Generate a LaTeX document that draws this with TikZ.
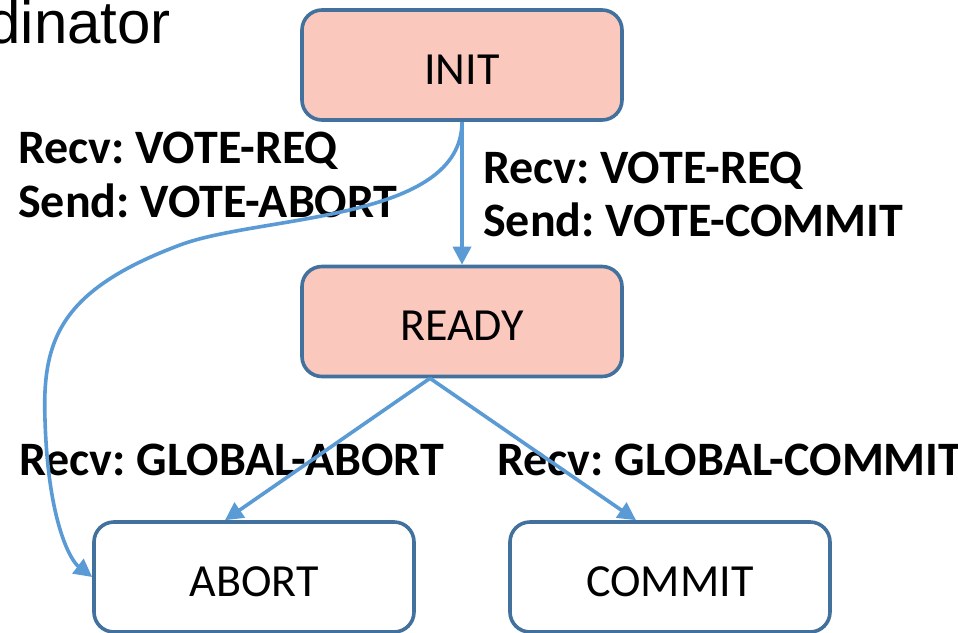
\documentclass[tikz,border=0pt]{standalone}
\usepackage{fontspec}
\setmainfont{Carlito}
\newfontfamily\arialfont{Liberation Sans}
\usetikzlibrary{arrows.meta,calc}
\definecolor{boxline}{HTML}{41719C}
\definecolor{boxfill}{HTML}{FBC8BE}
\definecolor{arrowblue}{HTML}{5B9BD5}
\begin{document}
\frenchspacing
\begin{tikzpicture}[x=1pt,y=-1pt,
  state/.style={draw=boxline, line width=3.6pt, rounded corners=20pt,
    minimum width=320pt, minimum height=110pt, inner sep=0pt,
    text height=38pt, text depth=0pt,
    font=\fontsize{46}{52}\selectfont},
  active/.style={state, fill=boxfill},
  lbl/.style={font=\bfseries\fontsize{48}{54}\selectfont, anchor=base west, inner sep=0pt},
  flow/.style={draw=arrowblue, line width=3.6pt, -{Triangle[length=18pt,width=18pt]}}]
\useasboundingbox (0,0) rectangle (958,632);
\fill[white] (0,0) rectangle (958,632);

\node[anchor=base east, inner sep=0pt, font=\arialfont\fontsize{60}{64}\selectfont] (title) at (171,43) {dinator};

\node[active] (init) at (462,65) {INIT};
\node[active] (ready) at (462,321.5) {READY};
\node[state] (abort) at (254,577) {ABORT};
\node[state] (commit) at (670,577) {COMMIT};

\node[lbl] (l1a) at (18,163) {Recv: VOTE-REQ};
\node[lbl] (l1b) at (18,217) {Send: VOTE-ABORT};
\node[lbl] (l2a) at (483,183) {Recv: VOTE-REQ};
\node[lbl] (l2b) at (483,236) {Send: VOTE-COMMIT};
\node[lbl] (l3) at (19,475) {Recv: GLOBAL-ABORT};
\node[lbl] (l4) at (497,475) {Recv: GLOBAL-COMMIT};

\draw[flow] (init.south) -- (ready.north);
\draw[flow] (init.south) .. controls +(0,100) and (260,215) .. (180,245)
  .. controls (60,290) and (42,340) .. (45,420)
  .. controls (48,520) and (70,560) .. (abort.west);
\draw[flow] ($(ready.south)+(-32,0)$) -- ($(abort.north)+(-29,0)$);
\draw[flow] ($(ready.south)+(-32,0)$) -- ($(commit.north)+(-34,0)$);
\end{tikzpicture}
\end{document}
